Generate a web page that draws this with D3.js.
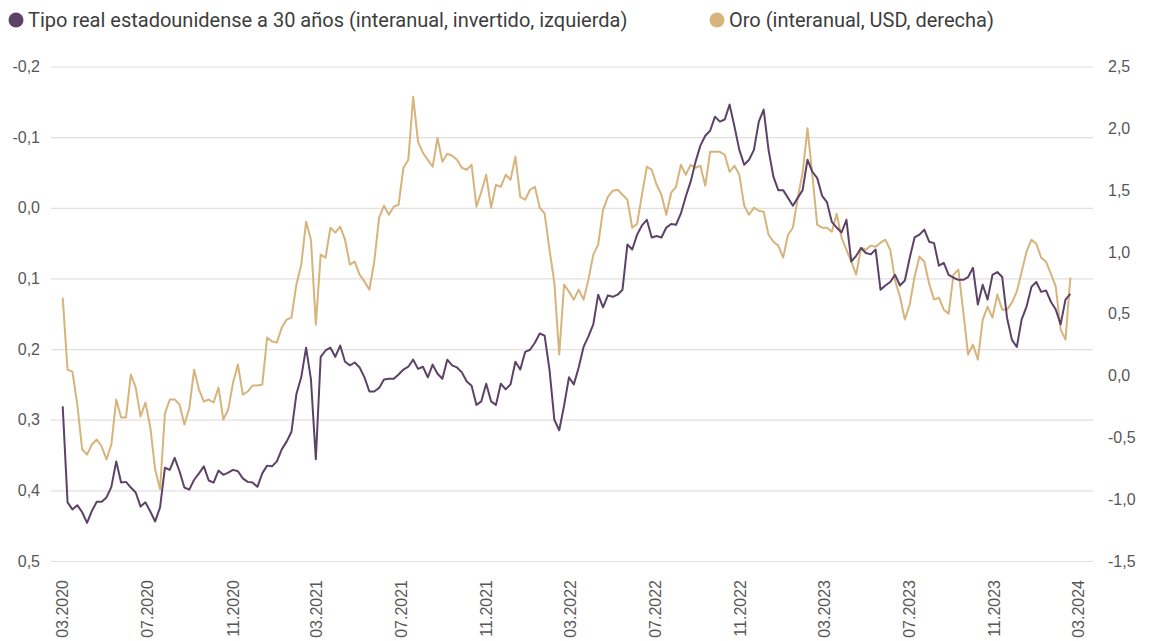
<!DOCTYPE html>
<html lang="es">
<head>
<meta charset="UTF-8"/>
<title>Tipo real EE.UU. 30 años vs Oro</title>
<script src="https://d3js.org/d3.v7.min.js"></script>
<style>
  body { margin: 0; background: #fff; }
  svg { display: block; font-family: Roboto, "Open Sans", sans-serif; }
  .tick text { fill: #575757; font-size: 16px; }
</style>
</head>
<body>
<script>
// first week of the weekly series, then one value per week
var startDate = "2020-03-02";

// Tipo real estadounidense a 30 años (interanual, invertido, izquierda)
var realRate = [
  0.281, 0.417, 0.427, 0.421, 0.431, 0.446, 0.429, 0.416, 0.416, 0.410,
  0.395, 0.359, 0.389, 0.388, 0.396, 0.403, 0.423, 0.417, 0.430, 0.444,
  0.424, 0.368, 0.371, 0.354, 0.373, 0.396, 0.399, 0.385, 0.376, 0.366,
  0.386, 0.389, 0.372, 0.378, 0.375, 0.371, 0.373, 0.383, 0.388, 0.389,
  0.395, 0.376, 0.365, 0.366, 0.359, 0.342, 0.331, 0.317, 0.264, 0.240,
  0.198, 0.243, 0.356, 0.211, 0.202, 0.198, 0.211, 0.195, 0.218, 0.223,
  0.219, 0.226, 0.240, 0.260, 0.260, 0.255, 0.243, 0.242, 0.242, 0.236,
  0.229, 0.225, 0.215, 0.228, 0.225, 0.240, 0.222, 0.235, 0.242, 0.215,
  0.223, 0.226, 0.233, 0.246, 0.252, 0.279, 0.274, 0.249, 0.274, 0.279,
  0.249, 0.257, 0.250, 0.218, 0.229, 0.204, 0.201, 0.191, 0.178, 0.181,
  0.229, 0.300, 0.315, 0.280, 0.240, 0.250, 0.226, 0.197, 0.182, 0.165,
  0.123, 0.141, 0.124, 0.126, 0.123, 0.116, 0.052, 0.059, 0.038, 0.025,
  0.017, 0.042, 0.040, 0.042, 0.028, 0.023, 0.024, 0.008, -0.016, -0.037,
  -0.065, -0.088, -0.102, -0.109, -0.129, -0.122, -0.125, -0.146, -0.115, -0.082,
  -0.061, -0.068, -0.082, -0.122, -0.139, -0.082, -0.044, -0.025, -0.025, -0.014,
  -0.003, -0.014, -0.025, -0.068, -0.051, -0.042, -0.017, -0.008, 0.020, 0.028,
  0.035, 0.017, 0.076, 0.068, 0.057, 0.064, 0.066, 0.059, 0.116, 0.110,
  0.105, 0.095, 0.110, 0.103, 0.071, 0.042, 0.038, 0.031, 0.048, 0.050,
  0.082, 0.078, 0.095, 0.099, 0.102, 0.102, 0.098, 0.085, 0.137, 0.109,
  0.130, 0.095, 0.091, 0.098, 0.156, 0.187, 0.197, 0.158, 0.140, 0.112,
  0.105, 0.119, 0.117, 0.133, 0.144, 0.165, 0.130, 0.122
];

// Oro (interanual, USD, derecha)
var gold = [
  0.630, 0.048, 0.032, -0.234, -0.598, -0.638, -0.558, -0.517, -0.574, -0.679,
  -0.558, -0.194, -0.339, -0.339, 0.008, -0.097, -0.331, -0.218, -0.420, -0.760,
  -0.920, -0.307, -0.194, -0.194, -0.234, -0.396, -0.267, 0.048, -0.113, -0.210,
  -0.194, -0.218, -0.097, -0.356, -0.275, -0.057, 0.089, -0.154, -0.129, -0.081,
  -0.081, -0.073, 0.307, 0.275, 0.267, 0.388, 0.453, 0.469, 0.735, 0.897,
  1.244, 1.099, 0.412, 0.978, 0.954, 1.196, 1.156, 1.204, 1.099, 0.897,
  0.921, 0.816, 0.760, 0.695, 0.921, 1.277, 1.374, 1.301, 1.366, 1.382,
  1.681, 1.745, 2.255, 1.891, 1.802, 1.745, 1.689, 1.923, 1.729, 1.794,
  1.778, 1.745, 1.681, 1.665, 1.705, 1.366, 1.487, 1.624, 1.358, 1.543,
  1.527, 1.624, 1.584, 1.770, 1.446, 1.422, 1.503, 1.527, 1.358, 1.309,
  1.018, 0.752, 0.170, 0.735, 0.679, 0.614, 0.695, 0.614, 0.776, 0.978,
  1.059, 1.341, 1.446, 1.495, 1.503, 1.463, 1.422, 1.196, 1.228, 1.463,
  1.689, 1.665, 1.543, 1.463, 1.301, 1.479, 1.527, 1.705, 1.624, 1.705,
  1.681, 1.697, 1.535, 1.810, 1.810, 1.810, 1.786, 1.648, 1.697, 1.624,
  1.374, 1.301, 1.358, 1.333, 1.325, 1.139, 1.083, 1.051, 0.954, 1.139,
  1.196, 1.438, 1.640, 2.000, 1.624, 1.220, 1.196, 1.196, 1.164, 1.309,
  1.115, 1.018, 0.921, 0.816, 1.034, 1.018, 1.051, 1.042, 1.075, 1.099,
  1.018, 0.768, 0.638, 0.453, 0.574, 0.800, 0.962, 0.921, 0.743, 0.614,
  0.630, 0.533, 0.501, 0.816, 0.857, 0.517, 0.170, 0.251, 0.129, 0.453,
  0.558, 0.469, 0.655, 0.533, 0.533, 0.590, 0.679, 0.840, 1.002, 1.099,
  1.067, 0.954, 0.921, 0.824, 0.719, 0.372, 0.291, 0.792
];

var leftTicks = [-0.2, -0.1, 0.0, 0.1, 0.2, 0.3, 0.4, 0.5];
var rightTicks = [2.5, 2.0, 1.5, 1.0, 0.5, 0.0, -0.5, -1.0, -1.5];
var xTickLabels = ["03.2020", "07.2020", "11.2020", "03.2021", "07.2021", "11.2021",
                   "03.2022", "07.2022", "11.2022", "03.2023", "07.2023", "11.2023", "03.2024"];

var seriesNames = ["Tipo real estadounidense a 30 años (interanual, invertido, izquierda)",
                   "Oro (interanual, USD, derecha)"];
var colors = ["#5c4266", "#d6b47c"];

var w = 1152, h = 641;
var plotLeft = 51, plotRight = 1093, plotTop = 66.5, plotBottom = 561;

var parseDate = d3.timeParse("%Y-%m-%d");
var parseTick = d3.timeParse("%m.%Y");
var t0 = parseDate(startDate);
var dates = realRate.map(function(d, i) { return d3.timeDay.offset(t0, i * 7); });

var x = d3.scaleTime()
    .domain([parseTick("03.2020"), parseTick("03.2024")])
    .range([62, 1078]);

// left axis is inverted: -0,2 at top
var yLeft = d3.scaleLinear().domain([-0.2, 0.5]).range([plotTop, plotBottom]);
var yRight = d3.scaleLinear().domain([2.5, -1.5]).range([plotTop, plotBottom]);

var fmt = function(v) { return d3.format(".1f")(v).replace(".", ",").replace("−", "-"); };

var svg = d3.select("body").append("svg")
    .attr("width", w)
    .attr("height", h);

// left axis + grid
var gLeft = svg.append("g")
    .attr("transform", "translate(" + plotLeft + ",0)")
    .call(d3.axisLeft(yLeft)
        .tickValues(leftTicks)
        .tickSize(-(plotRight - plotLeft))
        .tickPadding(11)
        .tickFormat(fmt));
gLeft.select(".domain").remove();
gLeft.selectAll(".tick line").attr("stroke", "#e3dfdb").attr("stroke-width", 1.2);

// right axis, labels only
var gRight = svg.append("g")
    .attr("transform", "translate(" + plotRight + ",0)")
    .call(d3.axisRight(yRight)
        .tickValues(rightTicks)
        .tickSize(0)
        .tickPadding(15)
        .tickFormat(fmt));
gRight.select(".domain").remove();

// x axis, rotated labels
var gX = svg.append("g")
    .attr("transform", "translate(0," + 572 + ")")
    .call(d3.axisBottom(x)
        .tickValues(xTickLabels.map(parseTick))
        .tickSize(0)
        .tickFormat(d3.timeFormat("%m.%Y")));
gX.select(".domain").remove();
gX.selectAll(".tick text")
    .attr("transform", "rotate(-90)")
    .attr("x", -8)
    .attr("y", 0)
    .attr("dy", "0.36em")
    .attr("dx", 0)
    .style("text-anchor", "end");

// lines
var lineLeft = d3.line()
    .x(function(d, i) { return x(dates[i]); })
    .y(function(d) { return yLeft(d); });

var lineRight = d3.line()
    .x(function(d, i) { return x(dates[i]); })
    .y(function(d) { return yRight(d); });

svg.append("path")
    .datum(gold)
    .attr("fill", "none")
    .attr("stroke", colors[1])
    .attr("stroke-width", 2)
    .attr("stroke-linejoin", "round")
    .attr("d", lineRight);

svg.append("path")
    .datum(realRate)
    .attr("fill", "none")
    .attr("stroke", colors[0])
    .attr("stroke-width", 2)
    .attr("stroke-linejoin", "round")
    .attr("d", lineLeft);

// legend
var legendX = [16, 717];
var legend = svg.selectAll("g.legend")
    .data(seriesNames)
    .enter()
    .append("g")
    .attr("class", "legend")
    .attr("transform", function(d, i) { return "translate(" + legendX[i] + ",20)"; });

legend.append("circle")
    .attr("r", 7.5)
    .attr("fill", function(d, i) { return colors[i]; });

legend.append("text")
    .attr("x", 12)
    .attr("dy", "0.35em")
    .attr("fill", "#3d3d3d")
    .style("font-size", "20px")
    .text(function(d) { return d; });
</script>
</body>
</html>
